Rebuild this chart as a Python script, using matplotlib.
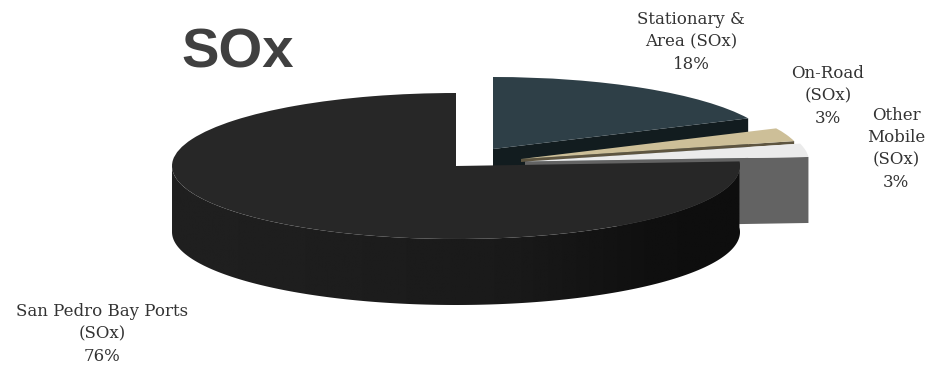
# plot.py
# exploded 3D style pie of SOx shares, drawn with patches on a pixel sized axes

import matplotlib
matplotlib.use("Agg")
import matplotlib.pyplot as plt
import matplotlib.patches as mpatches
from matplotlib.transforms import Affine2D
import numpy as np

# data
categories = ["Stationary &\nArea (SOx)", "On-Road\n(SOx)", "Other\nMobile\n(SOx)", "San Pedro Bay Ports\n(SOx)"]
shares = [18, 3, 3, 76]

# styles, one entry per slice
top_colors = ["#2e3f47", "#cdbf98", "#ebebeb", "#272727"]
side_colors = ["#121c1f", "#5e5540", "#636363", "#151515"]
centers = [(493, 149), (521, 159), (525, 161.5), (456, 166)]
radii = [(282, 72), (282, 72), (284, 72), (284, 73)]
depths = [66, 3, 66, 66]
label_pos = [(691, 42), (828, 96), (896, 149), (102, 334)]

W, H = 929, 365

fig = plt.figure(figsize=(W / 100, H / 100), dpi=100)
ax = fig.add_axes([0, 0, 1, 1])
ax.set_xlim(0, W)
ax.set_ylim(H, 0)
ax.axis("off")

# angles clockwise from 12 o'clock
edges = np.cumsum([0] + shares) / sum(shares) * 360


def rim(c, r, t, dy=0):
    t = np.radians(t)
    return np.column_stack([c[0] + r[0] * np.sin(t), c[1] - r[1] * np.cos(t) + dy])


def top_face(i):
    c, r = centers[i], radii[i]
    trans = Affine2D().scale(r[0], -r[1]).translate(c[0], c[1]) + ax.transData
    return mpatches.Wedge((0, 0), 1, 90 - edges[i + 1], 90 - edges[i],
                          transform=trans, fc=top_colors[i], ec="none", zorder=3)


def cut_wall(i):
    # the radial face on the clockwise end of a back slice
    c, r, d = centers[i], radii[i], depths[i]
    p = rim(c, r, [edges[i + 1]])
    pts = [c, p[0], p[0] + [0, d], (c[0], c[1] + d)]
    return mpatches.Polygon(pts, fc=side_colors[i], ec="none", zorder=1)


# back slices first so that the big slice overlaps them
for i in [0, 1, 2]:
    ax.add_patch(cut_wall(i))
    ax.add_patch(top_face(i))

# big slice: outer wall with a left to right shading
c, r, d = centers[3], radii[3], depths[3]
t = np.linspace(edges[3], 270, 200)
upper = rim(c, r, t)
lower = rim(c, r, t, d)
wall = mpatches.Polygon(np.vstack([upper, lower[::-1]]), fc="none", ec="none")
ax.add_patch(wall)
shade = np.interp(np.linspace(0, 1, 400), [0, 0.3, 0.6, 0.85, 1],
                  [0.125, 0.115, 0.10, 0.06, 0.055])
img = ax.imshow(shade[np.newaxis, :], cmap="gray", vmin=0, vmax=1, aspect="auto",
                extent=(c[0] - r[0], c[0] + r[0], c[1] + r[1] + d, c[1] - r[1]), zorder=4)
img.set_clip_path(wall)
ax.set_xlim(0, W)
ax.set_ylim(H, 0)
big = top_face(3)
big.set_zorder(5)
ax.add_patch(big)

# labels
for name, share, pos in zip(categories, shares, label_pos):
    ax.text(pos[0], pos[1], f"{name}\n{share}%", ha="center", va="center",
            family="DejaVu Serif", fontsize=12, color="#333333", linespacing=1.42, zorder=6)

ax.text(181, 54, "SOx", ha="left", va="center", family="Liberation Sans",
        fontweight="bold", fontsize=40.5, color="#404040", zorder=6)

fig.savefig("out.png", dpi=100, facecolor="white")
